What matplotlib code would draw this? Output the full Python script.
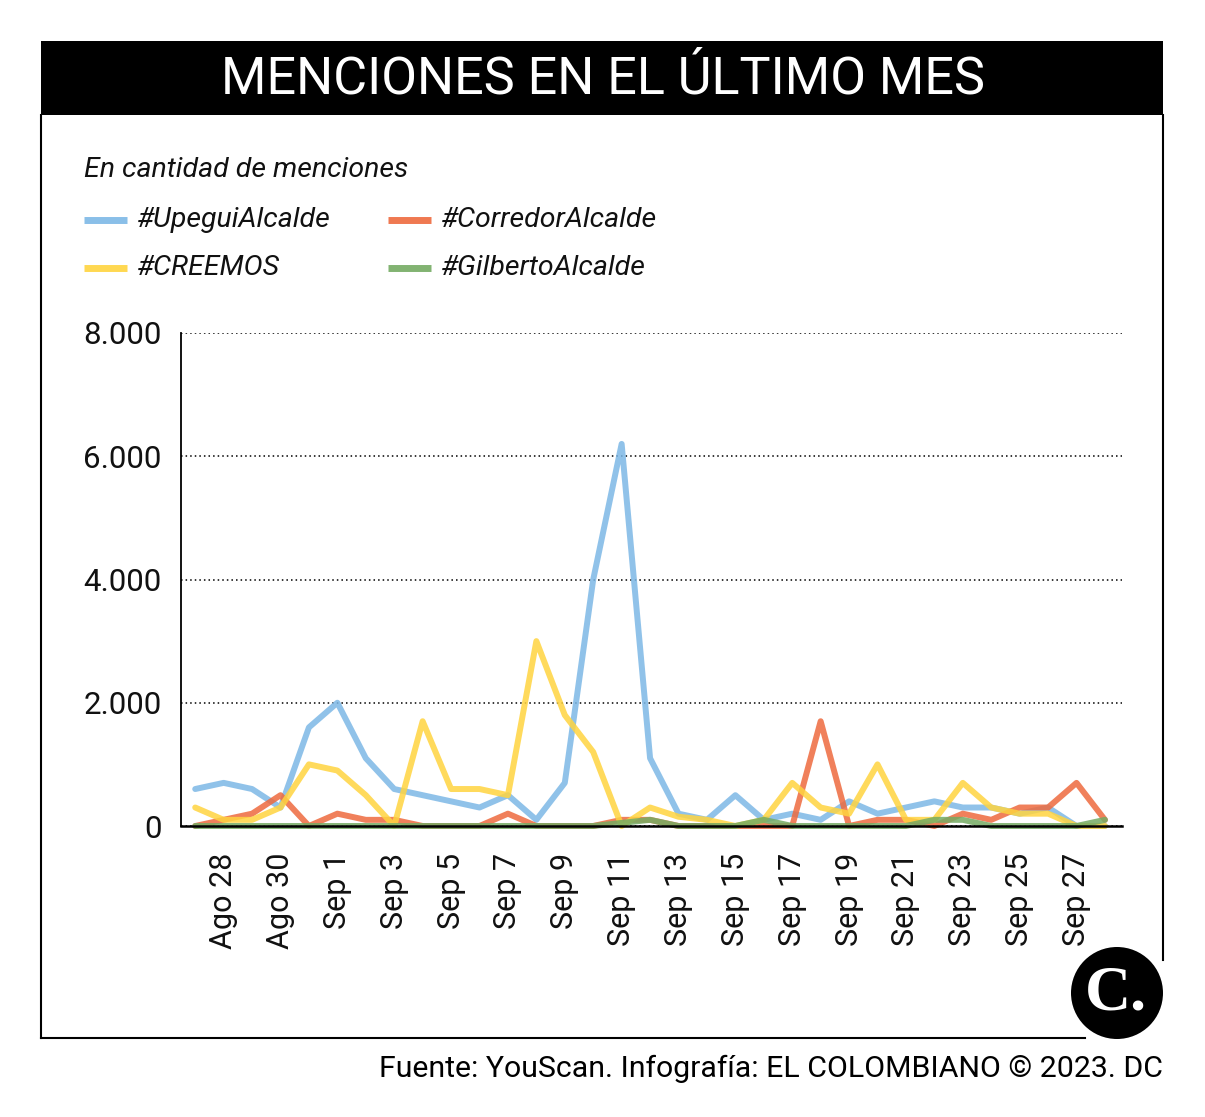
import matplotlib
matplotlib.use("Agg")
import matplotlib.pyplot as plt
from matplotlib.lines import Line2D
from matplotlib.patches import Rectangle, Ellipse
from matplotlib.ticker import FixedLocator, FixedFormatter

# ---------------- data ----------------
dates = ["Ago 27", "Ago 28", "Ago 29", "Ago 30", "Ago 31",
         "Sep 1", "Sep 2", "Sep 3", "Sep 4", "Sep 5", "Sep 6", "Sep 7", "Sep 8",
         "Sep 9", "Sep 10", "Sep 11", "Sep 12", "Sep 13", "Sep 14", "Sep 15",
         "Sep 16", "Sep 17", "Sep 18", "Sep 19", "Sep 20", "Sep 21", "Sep 22",
         "Sep 23", "Sep 24", "Sep 25", "Sep 26", "Sep 27", "Sep 28"]

upegui = [600, 700, 600, 300, 1600, 2000, 1100, 600, 500, 400, 300, 500, 100,
          700, 4000, 6200, 1100, 200, 100, 500, 100, 200, 100, 400, 200, 300,
          400, 300, 300, 200, 300, 0, 0]
corredor = [0, 100, 200, 500, 0, 200, 100, 100, 0, 0, 0, 200, 0,
            0, 0, 100, 100, 0, 0, 0, 0, 0, 1700, 0, 100, 100,
            0, 200, 100, 300, 300, 700, 100]
creemos = [300, 100, 100, 300, 1000, 900, 500, 0, 1700, 600, 600, 500, 3000,
           1800, 1200, 0, 300, 150, 100, 0, 100, 700, 300, 200, 1000, 100,
           100, 700, 300, 200, 200, 0, 0]
gilberto = [0, 0, 0, 0, 0, 0, 0, 0, 0, 0, 0, 0, 0,
            0, 0, 50, 100, 0, 0, 0, 100, 0, 0, 0, 0, 0,
            100, 100, 0, 0, 0, 0, 100]

series_names = ["#UpeguiAlcalde", "#CorredorAlcalde", "#CREEMOS", "#GilbertoAlcalde"]
series_values = [upegui, corredor, creemos, gilberto]
series_colors = ["#7DB8E6", "#EE6A3E", "#FFD43F", "#74AB63"]

y_ticks = [0, 2000, 4000, 6000, 8000]
y_tick_labels = ["0", "2.000", "4.000", "6.000", "8.000"]

title = "MENCIONES EN EL ÚLTIMO MES"
subtitle = "En cantidad de menciones"
footer = "Fuente: YouScan. Infografía: EL COLOMBIANO © 2023. DC"

# ---------------- figure ----------------
W, H = 1205, 1117
fig = plt.figure(figsize=(W / 100, H / 100), dpi=100)
fig.patch.set_facecolor("white")

FONT = ["Roboto", "DejaVu Sans"]


def fx(x):
    return x / W


def fy(y):
    return 1 - y / H


# header
fig.add_artist(Rectangle((fx(41), fy(115)), fx(1163) - fx(41), fy(41) - fy(115),
                         transform=fig.transFigure, facecolor="black",
                         edgecolor="none"))
fig.text(fx(603), fy(79), title, color="white", ha="center", va="center",
         fontsize=37.5, family=FONT)

# frame lines
frame_kw = dict(transform=fig.transFigure, color="black", lw=1.5)
fig.add_artist(Line2D([fx(41), fx(41)], [fy(115), fy(1038)], **frame_kw))
fig.add_artist(Line2D([fx(41), fx(1085)], [fy(1038), fy(1038)], **frame_kw))
fig.add_artist(Line2D([fx(1163), fx(1163)], [fy(115), fy(960)], **frame_kw))

# subtitle & legend
fig.text(fx(84), fy(170), subtitle, ha="left", va="center", fontsize=20.5,
         style="italic", family=FONT, color="#111111")
leg_pos = [(84, 220), (388, 220), (84, 268), (388, 268)]
for (lx, ly), name, col in zip(leg_pos, series_names, series_colors):
    fig.add_artist(Line2D([fx(lx), fx(lx + 43)], [fy(ly), fy(ly)],
                          transform=fig.transFigure, color=col, lw=5,
                          alpha=0.9, solid_capstyle="butt"))
    fig.text(fx(lx + 53), fy(ly), name, ha="left", va="center", fontsize=20.5,
             style="italic", family=FONT, color="#111111")

# axes
ax = fig.add_axes([fx(181), fy(826), fx(1122) - fx(181), fy(333) - fy(826)])
x = list(range(len(dates)))
for vals, col in zip(series_values, series_colors):
    ax.plot(x, vals, color=col, lw=4.3, alpha=0.85, solid_joinstyle="round",
            solid_capstyle="round", clip_on=False, zorder=3)

ax.set_xlim(-0.5, 32.6)
ax.set_ylim(0, 8000)
for s in ["top", "right"]:
    ax.spines[s].set_visible(False)
ax.spines["left"].set_linewidth(1.3)
ax.spines["bottom"].set_linewidth(1.8)
ax.spines["bottom"].set_zorder(4)

ax.yaxis.set_major_locator(FixedLocator(y_ticks))
ax.yaxis.set_major_formatter(FixedFormatter(y_tick_labels))
ax.grid(axis="y", color="black", linestyle=(0, (1, 2)), lw=1.1)
ax.set_axisbelow(True)

xt = x[1::2]
ax.xaxis.set_major_locator(FixedLocator(xt))
ax.xaxis.set_major_formatter(FixedFormatter(dates[1::2]))
ax.tick_params(axis="x", length=0, pad=19, labelsize=22, rotation=90,
               labelcolor="#111111")
ax.tick_params(axis="y", length=0, pad=14, labelsize=22.5, labelcolor="#111111")
for lab in ax.get_xticklabels() + ax.get_yticklabels():
    lab.set_family(FONT)

# logo
fig.add_artist(Ellipse((fx(1117), fy(993)), 92 / W, 92 / H,
                       transform=fig.transFigure, facecolor="black",
                       edgecolor="none"))
fig.text(fx(1116), fy(995), "C.", color="white", ha="center", va="center",
         fontsize=46, fontweight="bold", family=["Liberation Serif", "DejaVu Serif"])

# footer
fig.text(fx(1163), fy(1069), footer, ha="right", va="center", fontsize=21.8,
         family=FONT)

fig.savefig("out.png", dpi=100, facecolor="white")
